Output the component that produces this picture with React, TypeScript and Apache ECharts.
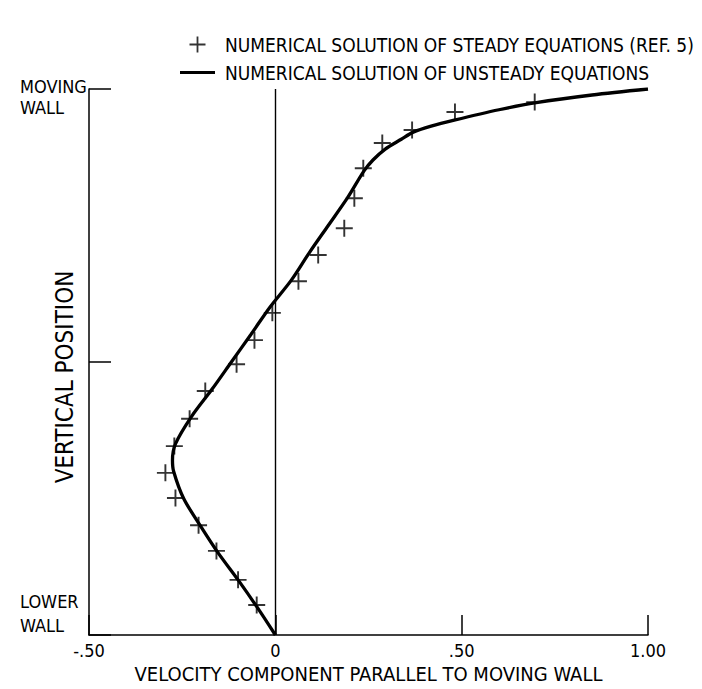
import React, { useEffect, useRef } from "react";
import * as echarts from "echarts";

// Steady solution (REF. 5) — plus markers
const steadyX = [-0.05, -0.1, -0.158, -0.206, -0.268, -0.295, -0.271, -0.23, -0.188, -0.104, -0.056, -0.008, 0.062, 0.115, 0.185, 0.212, 0.236, 0.287, 0.367, 0.482, 0.696];
const steadyY = [0.055, 0.101, 0.154, 0.201, 0.251, 0.297, 0.346, 0.396, 0.447, 0.496, 0.54, 0.59, 0.648, 0.696, 0.745, 0.8, 0.855, 0.901, 0.925, 0.958, 0.976];

// Unsteady solution — solid curve
const unsteadyX = [0, -0.048, -0.099, -0.153, -0.201, -0.246, -0.273, -0.276, -0.268, -0.225, -0.17, -0.118, -0.066, -0.015, 0.043, 0.091, 0.142, 0.193, 0.238, 0.262, 0.295, 0.338, 0.37, 0.418, 0.48, 0.6, 0.7, 0.85, 1.0];
const unsteadyY = [0, 0.05, 0.1, 0.15, 0.2, 0.25, 0.3, 0.32, 0.35, 0.4, 0.45, 0.5, 0.55, 0.6, 0.65, 0.7, 0.75, 0.8, 0.85, 0.87, 0.89, 0.908, 0.921, 0.932, 0.943, 0.962, 0.975, 0.989, 1.0];

const xTickLabels: Record<string, string> = { "-0.5": "-.50", "0": "0", "0.5": ".50", "1": "1.00" };
const steadyName = "NUMERICAL SOLUTION OF STEADY EQUATIONS (REF. 5)";
const unsteadyName = "NUMERICAL SOLUTION OF UNSTEADY EQUATIONS";

const FONT = "'Liberation Sans Narrow', 'DejaVu Sans Condensed', 'Roboto Condensed', 'Liberation Sans', sans-serif";
const PLUS = "path://M7.1,0h1.8v7.1h7.1v1.8h-7.1v7.1h-1.8v-7.1h-7.1v-1.8h7.1z";
const LINE_ICON = "path://M0,0h35v3.2h-35z";

const W = 702, H = 689;
const G = { left: 89, right: 54, top: 89, bottom: 54 };

export default function App() {
  const ref = useRef<HTMLDivElement>(null);
  useEffect(() => {
    if (!ref.current) return;
    const chart = echarts.init(ref.current, undefined, { renderer: "svg" });
    const steady = steadyX.map((x, i) => [x, steadyY[i]]);
    const unsteady = unsteadyX.map((x, i) => [x, unsteadyY[i]]);
    const txt = { color: "#000", fontFamily: FONT };
    const bottomY = H - G.bottom;
    chart.setOption({
      animation: false,
      backgroundColor: "#fff",
      grid: { ...G, containLabel: false },
      legend: {
        orient: "vertical",
        left: 175,
        top: 30,
        itemWidth: 35,
        itemHeight: 16,
        itemGap: 9,
        selectedMode: false,
        textStyle: { ...txt, fontSize: 19, lineHeight: 18, padding: [0, 0, 0, 5] },
        data: [
          { name: steadyName, icon: PLUS, itemStyle: { color: "#000" } },
          { name: unsteadyName, icon: LINE_ICON, itemStyle: { color: "#000" } },
        ],
      },
      xAxis: {
        type: "value",
        min: -0.5,
        max: 1.0,
        interval: 0.5,
        splitLine: { show: false },
        axisLine: { onZero: false, lineStyle: { color: "#000", width: 1.5 } },
        axisTick: { inside: true, length: 20, lineStyle: { color: "#000", width: 1.5 } },
        axisLabel: { ...txt, fontSize: 18, margin: 6, formatter: (v: number) => xTickLabels[String(v)] ?? "" },
        name: "VELOCITY COMPONENT PARALLEL TO MOVING WALL",
        nameLocation: "middle",
        nameGap: 28,
        nameTextStyle: { ...txt, fontSize: 20 },
      },
      yAxis: {
        type: "value",
        min: 0,
        max: 1,
        interval: 0.5,
        splitLine: { show: false },
        axisLine: { onZero: false, lineStyle: { color: "#000", width: 1.5 } },
        axisTick: { inside: true, length: 22, lineStyle: { color: "#000", width: 1.5 } },
        axisLabel: { show: false },
        name: "VERTICAL POSITION",
        nameLocation: "middle",
        nameGap: 12,
        nameTextStyle: { ...txt, fontSize: 24, padding: [0, 30, 0, 0] },
      },
      graphic: [
        { type: "text", left: 20, top: G.top - 12, style: { text: "MOVING", fill: "#000", font: `18px ${FONT}` } },
        { type: "text", left: 20, top: G.top + 9, style: { text: "WALL", fill: "#000", font: `18px ${FONT}` } },
        { type: "text", left: 20, top: bottomY - 43, style: { text: "LOWER", fill: "#000", font: `18px ${FONT}` } },
        { type: "text", left: 20, top: bottomY - 19, style: { text: "WALL", fill: "#000", font: `18px ${FONT}` } },
      ],
      series: [
        {
          name: steadyName,
          type: "scatter",
          data: steady,
          symbol: PLUS,
          symbolSize: 17,
          itemStyle: { color: "#000" },
          z: 3,
        },
        {
          name: unsteadyName,
          type: "line",
          data: unsteady,
          smooth: 0.3,
          showSymbol: false,
          lineStyle: { color: "#000", width: 3.3 },
          itemStyle: { color: "#000" },
          z: 4,
          markLine: {
            silent: true,
            symbol: "none",
            label: { show: false },
            lineStyle: { color: "#000", width: 1.4, type: "solid" },
            data: [{ xAxis: 0 }],
          },
        },
      ],
    });
    return () => chart.dispose();
  }, []);
  return <div ref={ref} style={{ position: "fixed", left: 0, top: 0, width: W, height: H, background: "#fff" }} />;
}
